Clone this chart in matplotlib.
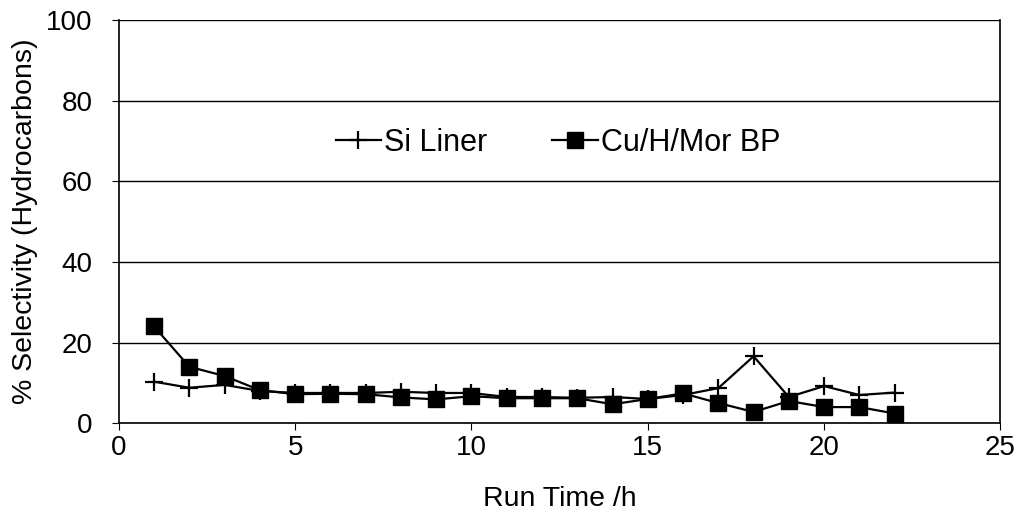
import matplotlib.pyplot as plt

plt.rcParams['font.family'] = ['Liberation Sans', 'DejaVu Sans']

run_time = list(range(1, 23))
si_liner = [10.3, 8.8, 9.5, 8.0, 7.5, 7.5, 7.5, 7.8, 7.5, 7.5, 6.5, 6.5,
            6.3, 6.5, 6.0, 7.0, 8.7, 16.6, 6.5, 9.2, 7.0, 7.6]
cu_h_mor = [24.0, 14.0, 11.7, 8.2, 7.2, 7.3, 7.2, 6.4, 5.9, 6.7, 6.2, 6.2,
            6.2, 4.7, 6.0, 7.4, 5.0, 2.8, 5.5, 4.0, 4.0, 2.4]

fig = plt.figure(figsize=(10.24, 5.29), dpi=100)
ax = fig.add_axes([0.116, 0.2, 0.861, 0.762])

ax.plot(run_time, si_liner, marker='+', color='black', linewidth=1.6,
        markersize=13, markeredgewidth=1.6, label='Si Liner')
ax.plot(run_time, cu_h_mor, marker='s', color='black', linewidth=1.6,
        markersize=11, label='Cu/H/Mor BP')

ax.set_xlim(0, 25)
ax.set_ylim(0, 100)
ax.set_xticks([0, 5, 10, 15, 20, 25])
ax.set_yticks([0, 20, 40, 60, 80, 100])
ax.yaxis.grid(True, color='black', linewidth=1)
ax.set_axisbelow(True)
ax.tick_params(labelsize=20, direction='out', length=5, color='black')
ax.tick_params(axis='y', pad=14)
for s in ax.spines.values():
    s.set_linewidth(1.2)
ax.spines['top'].set_visible(False)

ax.set_xlabel('Run Time /h', fontsize=20.5, labelpad=18)
ax.set_ylabel('% Selectivity (Hydrocarbons)', fontsize=20.5, labelpad=6)

ax.legend(loc='center', bbox_to_anchor=(0.498, 0.695), ncol=2, frameon=False,
          fontsize=22, handlelength=1.5, handletextpad=0.1, columnspacing=2.1)

fig.savefig('out.png')
